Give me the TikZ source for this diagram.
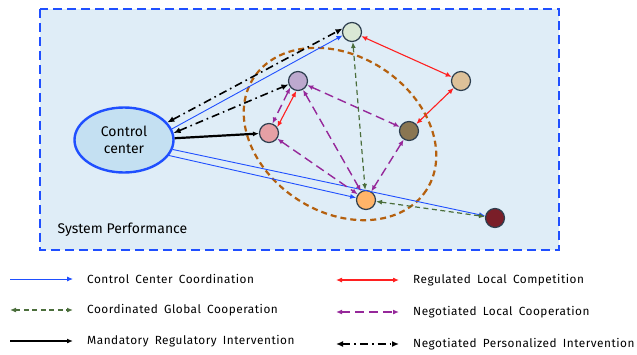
\documentclass[tikz,border=0pt]{standalone}
\usepackage{fontspec}
\setmainfont{Fira Sans}
\newfontfamily\legfont[LetterSpace=4.3,WordSpace=1.7]{Fira Sans}
\usetikzlibrary{arrows.meta,shapes.geometric}
\definecolor{boxfill}{HTML}{DFEDF7}
\definecolor{boxline}{HTML}{1F4FFF}
\definecolor{ctrlfill}{HTML}{C4E0F2}
\definecolor{ccblue}{HTML}{1F4FFF}
\definecolor{cgreen}{HTML}{4B6E3C}
\definecolor{cpurple}{HTML}{96289A}
\definecolor{cred}{HTML}{FF2020}
\definecolor{ringbrown}{HTML}{B5600E}
\definecolor{nodeline}{HTML}{2E3F4F}
\begin{document}
\begin{tikzpicture}[x=1pt,y=-1pt,
  agent/.style={circle,draw=nodeline,line width=1.2pt,minimum size=19pt,inner sep=0pt},
  ccc/.style={-{Latex[length=6pt,width=5pt]},ccblue,line width=0.9pt},
  mri/.style={-{Latex[length=6pt,width=5pt]},black,line width=2.2pt},
  rlc/.style={{Latex[length=6pt,width=5pt]}-{Latex[length=6pt,width=5pt]},cred,line width=1.1pt},
  cgc/.style={{Latex[length=6pt,width=5pt]}-{Latex[length=6pt,width=5pt]},cgreen,line width=1.2pt,dash pattern=on 5pt off 3.5pt},
  nlc/.style={{Latex[length=6pt,width=5pt]}-{Latex[length=6pt,width=5pt]},cpurple,line width=1.4pt,dash pattern=on 9pt off 5pt},
  npi/.style={{Latex[length=7pt,width=6pt]}-{Latex[length=7pt,width=6pt]},black,line width=1.6pt,dash pattern=on 8pt off 4pt on 1.6pt off 4pt},
  legtext/.style={anchor=west,inner sep=0pt,font=\legfont\fontsize{11.8}{14}\selectfont}]
\useasboundingbox (0,0) rectangle (637,354);
% system box
\draw[fill=boxfill,draw=boxline,line width=2.4pt,dash pattern=on 9pt off 5pt] (40,9) rectangle (559,250);
\node[anchor=west,font=\fontsize{14}{16}\selectfont] (perf) at (54,230) {System Performance};
% local group
\draw[ringbrown,line width=2.2pt,dash pattern=on 6pt off 4pt,rotate around={-33:(340,134)}] (340,134) ellipse (103 and 78);
% agents
\node[ellipse,draw=boxline,fill=ctrlfill,line width=2.4pt,minimum width=99pt,minimum height=65pt,inner sep=0pt,align=center,font=\fontsize{14}{17}\selectfont] (ctrl) at (124,140) {Control\\center};
\node[agent,fill={rgb,255:red,218;green,232;blue,213}] (pgreen) at (352,32) {};
\node[agent,fill={rgb,255:red,189;green,169;blue,206}] (ppurple) at (298,81) {};
\node[agent,fill={rgb,255:red,229;green,160;blue,165}] (ppink) at (269,133) {};
\node[agent,fill={rgb,255:red,221;green,193;blue,153}] (ptan) at (461,81) {};
\node[agent,fill={rgb,255:red,138;green,118;blue,82}] (pbrown) at (409,131) {};
\node[agent,fill={rgb,255:red,255;green,180;blue,105}] (porange) at (366,200) {};
\node[agent,fill={rgb,255:red,122;green,30;blue,40}] (pred) at (495,218) {};
% connections
\draw[ccc] (ctrl.13) -- (pgreen.200);
\draw[ccc] (ctrl.-11) -- (pred);
\draw[ccc] (ctrl.-19) -- (porange);
\draw[mri] (ctrl.2) -- (ppink);
\draw[npi] (ctrl.22) -- (pgreen.160);
\draw[npi] (ctrl.8) -- (ppurple.200);
\draw[rlc] (pgreen) -- (ptan);
\draw[rlc] (ptan) -- (pbrown);
\draw[rlc] (ppurple.260) -- (ppink.35);
\draw[nlc] (ppurple.220) -- (ppink.70);
\draw[nlc] (ppurple) -- (pbrown);
\draw[nlc] (ppurple) -- (porange);
\draw[nlc] (ppink) -- (porange);
\draw[nlc] (pbrown) -- (porange);
\draw[cgc] (pgreen) -- (porange);
\draw[cgc] (porange) -- (pred);
% legend
\foreach \y/\sty/\txt [count=\i] in {279/ccc/Control Center Coordination,310/cgc/Coordinated Global Cooperation,341/mri/Mandatory Regulatory Intervention}{
  \coordinate (la\i) at (10,\y);
  \coordinate (lb\i) at (73,\y);
  \draw[\sty] (la\i) -- (lb\i);
  \node[legtext] (lt\i) at (87,\y) {\txt};
}
\foreach \y/\sty/\txt [count=\i] in {280/rlc/Regulated Local Competition,312/nlc/Negotiated Local Cooperation,344/npi/Negotiated Personalized Intervention}{
  \coordinate (ra\i) at (336,\y);
  \coordinate (rb\i) at (399,\y);
  \draw[\sty] (ra\i) -- (rb\i);
  \node[legtext] (rt\i) at (413,\y) {\txt};
}
\end{tikzpicture}
\end{document}
